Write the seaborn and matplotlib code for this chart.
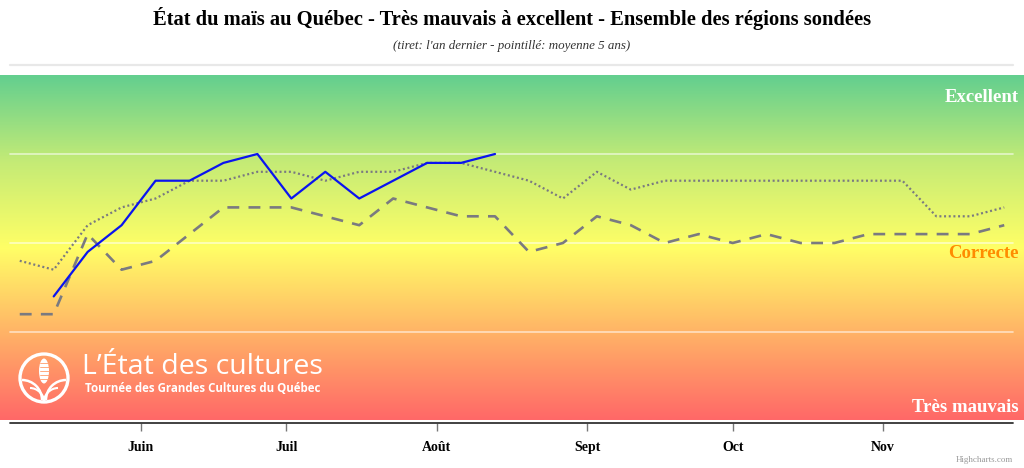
import numpy as np
import pandas as pd
import seaborn as sns
import matplotlib.pyplot as plt
import matplotlib.dates as mdates
from matplotlib.colors import LinearSegmentedColormap
from matplotlib.patches import Circle, Ellipse, Arc

dates = pd.date_range('2023-05-07', periods=30, freq='7D')

# cette annee (ligne bleue)
actuel = [None, 2.4, 2.9, 3.2, 3.7, 3.7, 3.9, 4.0, 3.5, 3.8, 3.5, 3.7, 3.9, 3.9, 4.0]
# l'an dernier (tiret)
an_dernier = [2.2, 2.2, 3.1, 2.7, 2.8, 3.1, 3.4, 3.4, 3.4, 3.3, 3.2, 3.5, 3.4, 3.3, 3.3,
              2.9, 3.0, 3.3, 3.2, 3.0, 3.1, 3.0, 3.1, 3.0, 3.0, 3.1, 3.1, 3.1, 3.1, 3.2]
# moyenne 5 ans (pointille)
moyenne_5 = [2.8, 2.7, 3.2, 3.4, 3.5, 3.7, 3.7, 3.8, 3.8, 3.7, 3.8, 3.8, 3.9, 3.9, 3.8,
             3.7, 3.5, 3.8, 3.6, 3.7, 3.7, 3.7, 3.7, 3.7, 3.7, 3.7, 3.7, 3.3, 3.3, 3.4]

mois = ['Juin', 'Juil', 'Août', 'Sept', 'Oct', 'Nov']
mois_dates = pd.to_datetime(['2023-06-01', '2023-07-01', '2023-08-01',
                             '2023-09-01', '2023-10-01', '2023-11-01'])
niveaux = ['Excellent', 'Correcte', 'Très mauvais']

df = pd.DataFrame({'date': dates,
                   'actuel': pd.array(actuel + [None] * (30 - len(actuel)), dtype='Float64').astype(float),
                   'an_dernier': an_dernier,
                   'moyenne_5': moyenne_5})

sns.set_style('white')
plt.rcParams['font.family'] = ['Liberation Serif', 'DejaVu Serif']

W, H = 1024, 468
fig = plt.figure(figsize=(W / 100, H / 100), dpi=100)
ax = fig.add_axes([0, (H - 423) / H, 1, (423 - 75) / H])

px_day = (883 - 141) / 153.0
x0 = mdates.date2num(pd.Timestamp('2023-06-01')) - 141 / px_day
x1 = x0 + W / px_day
y0 = 4 - (423 - 154) / 89.0
y1 = 4 + (154 - 75) / 89.0
ax.set_xlim(x0, x1)
ax.set_ylim(y0, y1)

cmap = LinearSegmentedColormap.from_list('etat', [
    (0.0, '#ff6868'), (0.25, '#ffb266'), (0.5, '#ffff66'), (0.75, '#c4eb76'), (1.0, '#63cf8f')])
yb = 4 - (420 - 154) / 89.0
grad = np.linspace(0, 1, 256).reshape(-1, 1)
ax.imshow(grad, cmap=cmap, origin='lower', aspect='auto',
          extent=[x0, x1, yb, y1], zorder=0)

for v in [2, 3, 4]:
    ax.axhline(v, xmin=10 / W, xmax=1013 / W, color='white', alpha=0.6, lw=1.2, zorder=1)
ax.axhline(y0, xmin=10 / W, xmax=1013 / W, color='#333333', lw=1.3, zorder=3, clip_on=False)

sns.lineplot(data=df, x='date', y='an_dernier', ax=ax, color='#7a7a80', lw=1.9,
             linestyle=(0, (4.5, 3.5)), zorder=4)
sns.lineplot(data=df, x='date', y='moyenne_5', ax=ax, color='#7a7a80', lw=1.6,
             linestyle=(0, (0.9, 1.2)), zorder=4)
sns.lineplot(data=df, x='date', y='actuel', ax=ax, color='#0a14f0', lw=1.6, zorder=5)

for s in ax.spines.values():
    s.set_visible(False)
ax.set_yticks([])
ax.set_xticks(mdates.date2num(mois_dates))
ax.set_xticklabels(mois, fontweight='bold', fontsize=10, color='black')
ax.tick_params(axis='x', direction='out', length=6, width=1, color='#777777', pad=7, bottom=True)
ax.set_xlabel('')
ax.set_ylabel('')

fig.text(512 / W, 1 - 18 / H, 'État du maïs au Québec - Très mauvais à excellent - Ensemble des régions sondées',
         ha='center', va='center', fontsize=14.8, fontweight='bold', color='black')
fig.text(512 / W, 1 - 46 / H, "(tiret: l'an dernier - pointillé: moyenne 5 ans)",
         ha='center', va='center', fontsize=9.4, style='italic', color='#333333')
fig.add_artist(plt.Line2D([10 / W, 1013 / W], [1 - 64.5 / H, 1 - 64.5 / H],
                          color='#e8e8e8', lw=1.6))

ax.text(1019 / W, 1 - (98 - 75) / (423 - 75), niveaux[0], transform=ax.transAxes,
        ha='right', va='center', fontsize=13.5, fontweight='bold', color='white')
ax.text(1019 / W, 1 - (254 - 75) / (423 - 75), niveaux[1], transform=ax.transAxes,
        ha='right', va='center', fontsize=13.5, fontweight='bold', color='#ff8c00')
ax.text(1019 / W, 1 - (407.5 - 75) / (423 - 75), niveaux[2], transform=ax.transAxes,
        ha='right', va='center', fontsize=13.5, fontweight='bold', color='white')

fig.text(1013 / W, 1 - 460 / H, 'Highcharts.com', ha='right', va='center',
         fontsize=6.5, color='#999999')

# logo
lax = fig.add_axes([0, 0, 1, 1], facecolor='none')
lax.set_xlim(0, W)
lax.set_ylim(H, 0)
lax.axis('off')
lax.add_patch(Circle((44, 378), 24, fill=False, ec='white', lw=2.4))
lax.add_patch(Ellipse((44, 371), 10, 25, fc='white', ec='none'))
for yy in range(363, 382, 4):
    lax.plot([39.5, 48.5], [yy, yy], color='#ff9c6a', lw=0.6)
lax.add_patch(Arc((22, 400), 40, 40, theta1=270, theta2=360, ec='white', lw=1.8))
lax.add_patch(Arc((66, 400), 40, 40, theta1=180, theta2=270, ec='white', lw=1.8))
lax.add_patch(Arc((30, 405), 30, 34, theta1=270, theta2=350, ec='white', lw=1.5))
lax.add_patch(Arc((58, 405), 30, 34, theta1=190, theta2=270, ec='white', lw=1.5))
lax.text(82, 367, 'L\u2019État des cultures', color='white', fontsize=20.5,
         family=['Open Sans', 'DejaVu Sans'], va='center', ha='left')
lax.text(85, 389, 'Tournée des Grandes Cultures du Québec', color='white', fontsize=8.3,
         family=['Open Sans', 'DejaVu Sans'], fontweight='bold', va='center', ha='left')

fig.savefig('out.png', dpi=100)
